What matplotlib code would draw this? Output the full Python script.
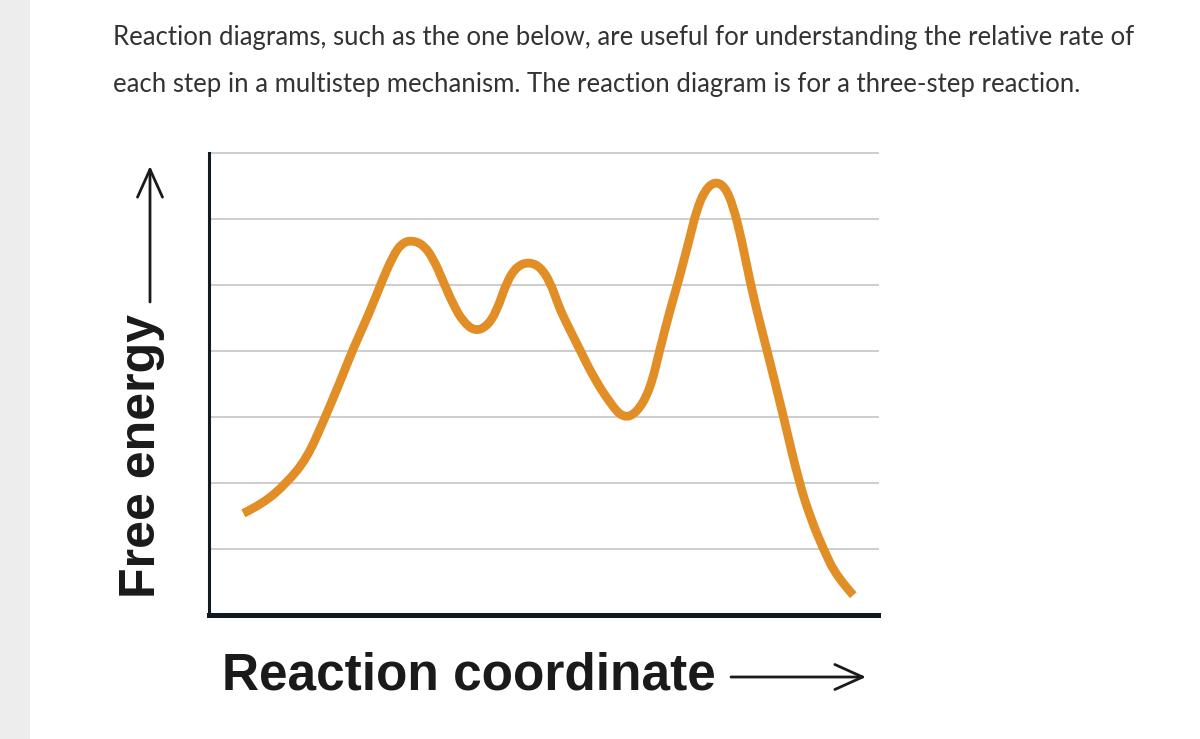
import matplotlib.pyplot as plt
from matplotlib.patches import Rectangle, PathPatch
from matplotlib.path import Path

# ==============================================================================
# Data: the free energy profile
#
reaction_coordinate = [
    5.13, 8.12, 11.61, 14.60, 17.09, 19.58, 21.52, 24.07, 25.81, 27.55,
    28.80, 30.30, 32.03, 33.53, 35.02, 36.52, 38.01, 39.76, 41.51, 43.00,
    44.50, 45.99, 47.73, 49.48, 50.97, 52.21, 52.96, 55.38, 57.44, 59.94,
    61.93, 63.93, 65.92, 67.41, 68.91, 70.15, 71.90, 72.90, 74.14, 75.64,
    77.13, 78.37, 79.63, 80.87, 82.11, 83.36, 85.84, 88.19, 89.99, 91.82,
    93.83, 96.31,
]
free_energy = [
    1.54, 1.69, 2.00, 2.37, 2.93, 3.53, 4.03, 4.60, 5.05, 5.45,
    5.63, 5.68, 5.61, 5.40, 5.05, 4.70, 4.44, 4.30, 4.37, 4.60,
    5.05, 5.28, 5.35, 5.28, 5.05, 4.70, 4.52, 4.03, 3.61, 3.21,
    2.98, 3.06, 3.41, 4.03, 4.62, 5.05, 5.73, 6.14, 6.44, 6.57,
    6.49, 6.19, 5.68, 5.05, 4.52, 4.03, 3.02, 2.01, 1.45, 1.00,
    0.58, 0.30,
]
grid_levels = [1, 2, 3, 4, 5, 6, 7]

HEADER_LINES = [
    'Reaction diagrams, such as the one below, are useful for understanding the relative rate of',
    'each step in a multistep mechanism. The reaction diagram is for a three-step reaction.',
]
X_LABEL = 'Reaction coordinate'
Y_LABEL = 'Free energy'

# ==============================================================================
# Style
#
W, H = 1200, 739
CURVE_COLOR = '#e08e25'
GRID_COLOR = '#cdcdcd'
AXIS_COLOR = '#0f1a22'
LABEL_COLOR = '#1a1a1a'
HEADER_COLOR = '#333333'
LABEL_FONT = 'Liberation Sans'

def fx(px):
    return px / W

def fy(py):
    return 1 - py / H

def smooth_path(xs, ys):
    # quadratic bezier chain: read points act as control points
    pts = list(zip(xs, ys))
    verts = [pts[0]]
    codes = [Path.MOVETO]
    for i in range(1, len(pts) - 1):
        mid = ((pts[i][0] + pts[i + 1][0]) / 2, (pts[i][1] + pts[i + 1][1]) / 2)
        if i == len(pts) - 2:
            mid = pts[-1]
        verts += [pts[i], mid]
        codes += [Path.CURVE3, Path.CURVE3]
    return Path(verts, codes)

fig = plt.figure(figsize=(W / 100, H / 100), dpi=100)
fig.patch.set_facecolor('white')
                                                           # grey page margin
fig.add_artist(Rectangle((0, 0), fx(30), 1, transform=fig.transFigure,
                         facecolor='#ededed', edgecolor='none'))
                                                                 # header text
for line, base in zip(HEADER_LINES, [45, 92]):
    fig.text(fx(113), fy(base), line, fontsize=18.5, family='Lato',
             color=HEADER_COLOR, ha='left', va='baseline')
                                                                        # axes
ax = fig.add_axes([fx(209), fy(615), (878 - 209) / W, (615 - 153) / H])
ax.set_xlim(0, 100)
ax.set_ylim(0, 7)
for level in grid_levels:
    ax.axhline(level, color=GRID_COLOR, lw=1.4, zorder=1, clip_on=False)
ax.add_patch(PathPatch(smooth_path(reaction_coordinate, free_energy),
                       facecolor='none', edgecolor=CURVE_COLOR, lw=6.3,
                       capstyle='butt', joinstyle='round', zorder=3))
for side in ['top', 'right']:
    ax.spines[side].set_visible(False)
ax.spines['left'].set_linewidth(2.2)
ax.spines['left'].set_color(AXIS_COLOR)
ax.spines['bottom'].set_linewidth(3.6)
ax.spines['bottom'].set_color(AXIS_COLOR)
ax.set_xticks([])
ax.set_yticks([])
                                                                      # labels
fig.text(fx(222), fy(690), X_LABEL, fontsize=37, fontweight='bold',
         family=LABEL_FONT, color=LABEL_COLOR, ha='left', va='baseline')
fig.text(fx(142), fy(598), Y_LABEL, fontsize=36, fontweight='bold',
         family=LABEL_FONT, color=LABEL_COLOR, ha='center', va='bottom',
         rotation=90)
arrow_props = dict(arrowstyle='->,head_length=1.0,head_width=0.45',
                   lw=2.0, color=LABEL_COLOR, mutation_scale=20,
                   shrinkA=0, shrinkB=0)
ax.annotate('', xy=(fx(866), fy(677)), xytext=(fx(731), fy(677)),
            xycoords='figure fraction', textcoords='figure fraction',
            arrowprops=arrow_props)
ax.annotate('', xy=(fx(150), fy(166)), xytext=(fx(150), fy(302)),
            xycoords='figure fraction', textcoords='figure fraction',
            arrowprops=arrow_props)

fig.savefig('out.png', dpi=100, facecolor=fig.get_facecolor())
